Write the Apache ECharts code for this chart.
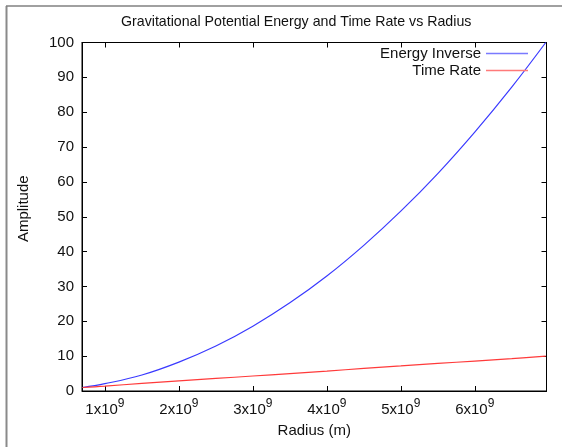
<!DOCTYPE html>
<html>
<head>
<meta charset="utf-8">
<script src="https://cdn.jsdelivr.net/npm/echarts@6/dist/echarts.min.js"></script>
<style>html,body{margin:0;padding:0;background:#fff}#c{width:562px;height:447px}</style>
</head>
<body>
<div id="c"></div>
<script>
// Values
const radius = [0.696e9, 1.0e9, 1.5e9, 2.0e9, 2.5e9, 3.0e9, 3.5e9, 4.0e9, 4.5e9, 5.0e9, 5.5e9, 6.0e9, 6.5e9, 6.96e9];
const energyInverse = [1, 2.1, 4.6, 8.3, 12.9, 18.6, 25.3, 33.0, 41.8, 51.6, 62.4, 74.3, 87.2, 100];
const timeRate = [1, 1.4, 2.2, 2.9, 3.6, 4.3, 5.0, 5.7, 6.5, 7.2, 7.9, 8.6, 9.3, 10];
const xTicks = [1e9, 2e9, 3e9, 4e9, 5e9, 6e9];
const xMin = 0.69e9, xMax = 6.97e9;

const font = 'Liberation Sans';
const chart = echarts.init(document.getElementById('c'), null, {renderer: 'canvas'});
const pairs = (ys) => radius.map((r, i) => [r, ys[i]]);

const axisCommon = {
  axisLine: {show: true, onZero: false, lineStyle: {color: '#000', width: 1}},
  axisTick: {show: true, inside: true, length: 5, lineStyle: {color: '#000'}},
  splitLine: {show: false}
};

chart.setOption({
  animation: false,
  textStyle: {fontFamily: font},
  title: {
    text: 'Gravitational Potential Energy and Time Rate vs Radius',
    left: 116, top: 10,
    textStyle: {fontFamily: font, fontSize: 14.2, fontWeight: 'normal', color: '#111'}
  },
  legend: {
    orient: 'vertical', right: 29, top: 41, align: 'right',
    itemWidth: 42, itemHeight: 1.5, itemGap: 2,
    textStyle: {fontFamily: font, fontSize: 15, color: '#111', lineHeight: 15},
    data: [
      {name: 'Energy Inverse', icon: 'rect', itemStyle: {color: '#7a7aff'}},
      {name: 'Time Rate', icon: 'rect', itemStyle: {color: '#ff7a7a'}}
    ]
  },
  grid: {left: 82, right: 15.5, top: 42.5, bottom: 56, show: true, borderColor: '#000', borderWidth: 1},
  xAxis: [
    Object.assign({}, axisCommon, {
      type: 'value', min: xMin, max: xMax, position: 'bottom',
      name: 'Radius (m)', nameLocation: 'middle', nameGap: 32,
      nameTextStyle: {fontFamily: font, fontSize: 15, color: '#111'},
      axisTick: Object.assign({}, axisCommon.axisTick, {customValues: xTicks}),
      axisLabel: {
        customValues: xTicks, margin: 7, color: '#111',
        formatter: v => '{a|' + Math.round(v / 1e9) + 'x10}{b|9}',
        rich: {
          a: {fontFamily: font, fontSize: 15, color: '#111'},
          b: {fontFamily: font, fontSize: 12, color: '#111', padding: [0, 0, 11, 0]}
        }
      }
    }),
    Object.assign({}, axisCommon, {
      type: 'value', min: xMin, max: xMax, position: 'top',
      axisTick: Object.assign({}, axisCommon.axisTick, {customValues: xTicks}),
      axisLabel: {show: false}
    })
  ],
  yAxis: [
    Object.assign({}, axisCommon, {
      type: 'value', min: 0, max: 100, interval: 10, position: 'left',
      name: 'Amplitude', nameLocation: 'middle', nameGap: 51, nameRotate: 90,
      nameTextStyle: {fontFamily: font, fontSize: 15, color: '#111', padding: [0, 0, 0, 16]},
      axisLabel: {margin: 8, fontFamily: font, fontSize: 15, color: '#111'}
    }),
    Object.assign({}, axisCommon, {
      type: 'value', min: 0, max: 100, interval: 10, position: 'right',
      axisLabel: {show: false}
    })
  ],
  graphic: [
    {type: 'line', shape: {x1: 6.5, y1: 6, x2: 6.5, y2: 447}, style: {stroke: '#8a8a8a', lineWidth: 2}, silent: true},
    {type: 'line', shape: {x1: 6, y1: 6, x2: 562, y2: 6}, style: {stroke: '#808080', lineWidth: 1.5}, silent: true}
  ],
  series: [
    {name: 'Energy Inverse', type: 'line', data: pairs(energyInverse), smooth: 0.4, symbol: 'none',
     xAxisIndex: 0, yAxisIndex: 0, lineStyle: {color: '#3a3aff', width: 1.2}, itemStyle: {color: '#3a3aff'}},
    {name: 'Time Rate', type: 'line', data: pairs(timeRate), smooth: 0.4, symbol: 'none',
     xAxisIndex: 0, yAxisIndex: 0, lineStyle: {color: '#ff3a3a', width: 1.2}, itemStyle: {color: '#ff3a3a'}}
  ]
});
</script>
</body>
</html>
